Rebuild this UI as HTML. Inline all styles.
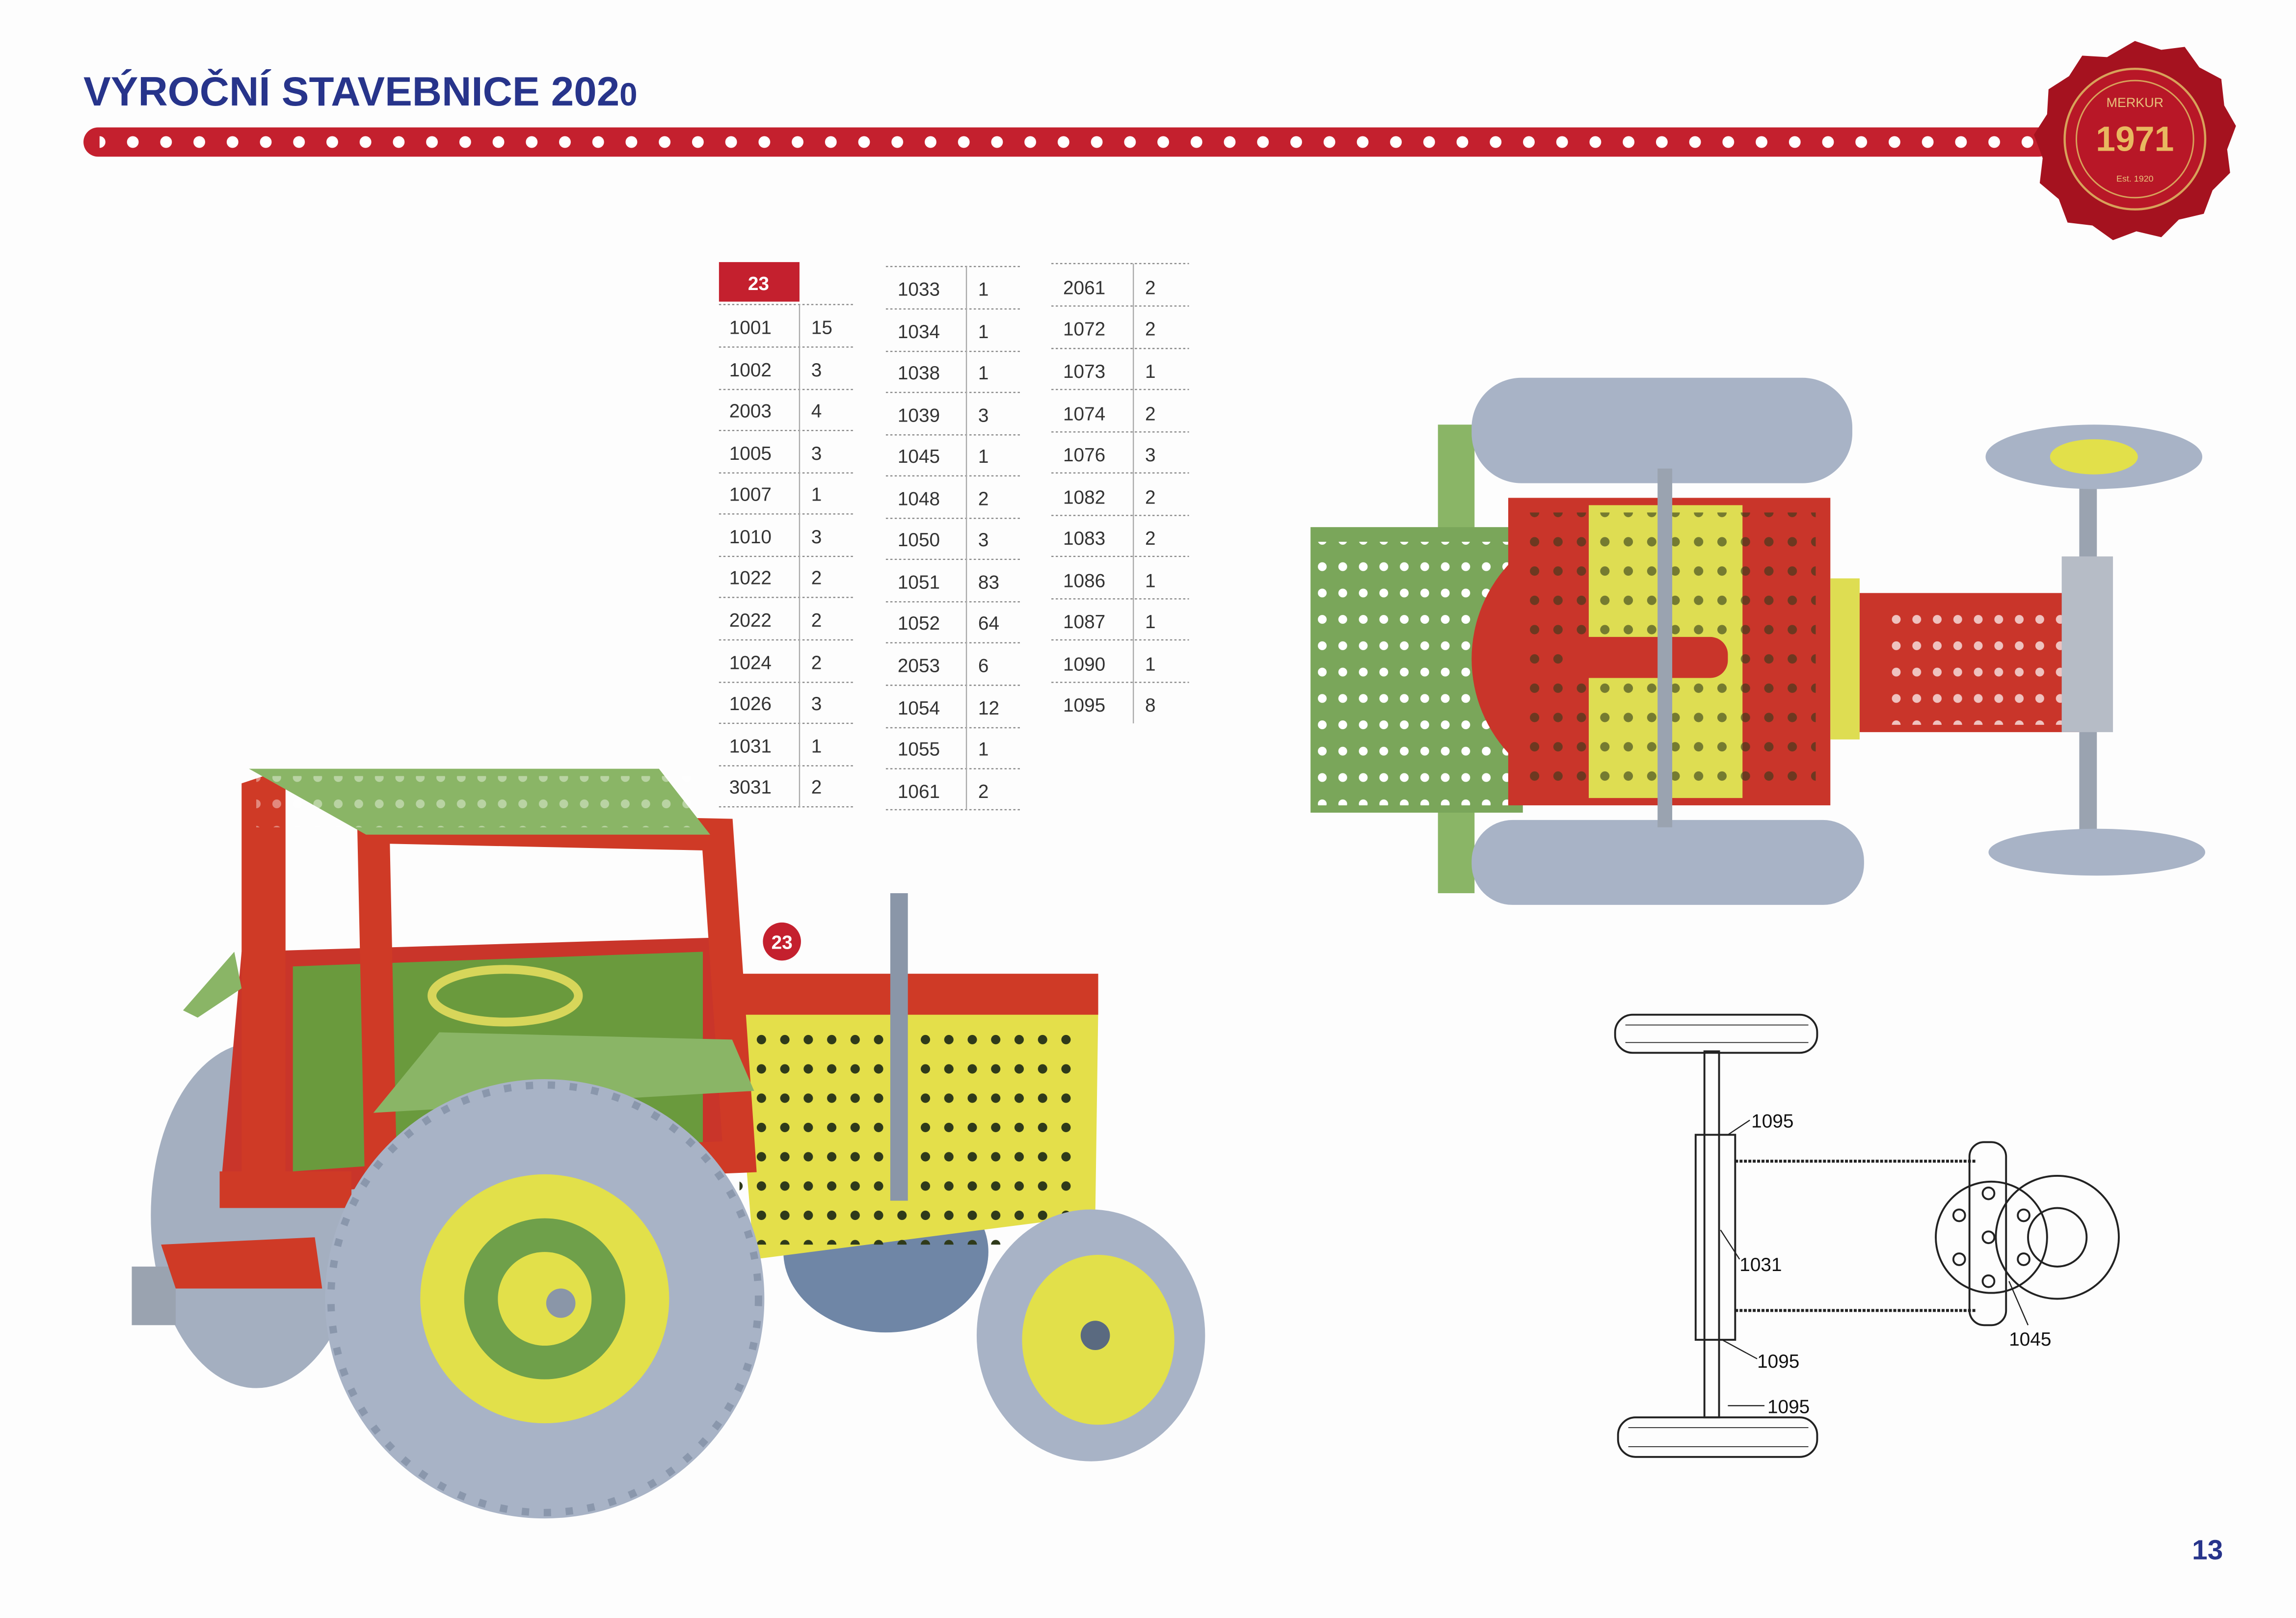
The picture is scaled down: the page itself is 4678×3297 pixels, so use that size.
<!DOCTYPE html>
<html><head><meta charset="utf-8"><style>
html,body{margin:0;padding:0;background:#fff;}
svg{display:block;}
text{font-family:"Liberation Sans",sans-serif;}
</style></head><body>
<svg width="4678" height="3297" viewBox="0 0 1568 1105" preserveAspectRatio="none" xmlns="http://www.w3.org/2000/svg">
<defs>
<pattern id="dots" x="57" y="87" width="22.7" height="20" patternUnits="userSpaceOnUse">
<circle cx="11" cy="10" r="4" fill="#fff"/></pattern>
<pattern id="holesY" width="16" height="20" patternUnits="userSpaceOnUse"><circle cx="8" cy="10" r="3.2" fill="#2f3a1a"/></pattern>
<pattern id="holesW" width="14" height="18" patternUnits="userSpaceOnUse"><circle cx="7" cy="9" r="3" fill="#fff"/></pattern>
</defs>
<rect width="1568" height="1105" fill="#fdfdfd"/>
<!-- header -->
<text x="57" y="72" font-size="28" font-weight="bold" fill="#27348b">VÝROČNÍ STAVEBNICE 202<tspan font-size="22">0</tspan></text>
<rect x="57" y="87" width="1345" height="20" rx="10" fill="#c4202e"/>
<rect x="68" y="87" width="1325" height="20" fill="url(#dots)"/>
<!-- seal -->
<path d="M1458 28 l18 6 l16 -2 l10 14 l15 8 l2 18 l8 14 l-6 16 l2 16 l-12 12 l-6 16 l-17 4 l-12 12 l-17 -4 l-16 6 l-14 -10 l-17 -2 l-6 -16 l-13 -11 l2 -17 l-6 -16 l9 -14 l1 -17 l14 -9 l9 -14 l17 1 z" fill="#a5121f"/>
<circle cx="1458" cy="95" r="48" fill="#b81727" stroke="#d8a25a" stroke-width="1.5"/>
<circle cx="1458" cy="95" r="40" fill="none" stroke="#d8a25a" stroke-width="1"/>
<text x="1458" y="73" font-size="9" fill="#e8c27a" text-anchor="middle">MERKUR</text>
<text x="1458" y="103" font-size="24" font-weight="bold" fill="#e8b860" text-anchor="middle">1971</text>
<text x="1458" y="124" font-size="6" fill="#e8c27a" text-anchor="middle">Est. 1920</text>
<!-- table -->
<g font-size="13" fill="#333">
<rect x="491" y="179" width="55" height="27" fill="#c4202e"/>
<text x="518" y="198" fill="#fff" font-weight="bold" text-anchor="middle">23</text>
<g stroke="#888" stroke-dasharray="1.5,1.5" stroke-width="0.8">
<line x1="491" y1="208" x2="583" y2="208"/><line x1="491" y1="237" x2="583" y2="237"/><line x1="491" y1="266" x2="583" y2="266"/><line x1="491" y1="294" x2="583" y2="294"/><line x1="491" y1="323" x2="583" y2="323"/><line x1="491" y1="351" x2="583" y2="351"/><line x1="491" y1="380" x2="583" y2="380"/><line x1="491" y1="408" x2="583" y2="408"/><line x1="491" y1="437" x2="583" y2="437"/><line x1="491" y1="466" x2="583" y2="466"/><line x1="491" y1="494" x2="583" y2="494"/><line x1="491" y1="523" x2="583" y2="523"/><line x1="491" y1="551" x2="583" y2="551"/>
<line x1="605" y1="182" x2="698" y2="182"/><line x1="605" y1="211" x2="698" y2="211"/><line x1="605" y1="240" x2="698" y2="240"/><line x1="605" y1="268" x2="698" y2="268"/><line x1="605" y1="297" x2="698" y2="297"/><line x1="605" y1="325" x2="698" y2="325"/><line x1="605" y1="354" x2="698" y2="354"/><line x1="605" y1="382" x2="698" y2="382"/><line x1="605" y1="411" x2="698" y2="411"/><line x1="605" y1="439" x2="698" y2="439"/><line x1="605" y1="468" x2="698" y2="468"/><line x1="605" y1="497" x2="698" y2="497"/><line x1="605" y1="525" x2="698" y2="525"/><line x1="605" y1="553" x2="698" y2="553"/>
<line x1="718" y1="180" x2="812" y2="180"/><line x1="718" y1="209" x2="812" y2="209"/><line x1="718" y1="238" x2="812" y2="238"/><line x1="718" y1="266" x2="812" y2="266"/><line x1="718" y1="295" x2="812" y2="295"/><line x1="718" y1="323" x2="812" y2="323"/><line x1="718" y1="352" x2="812" y2="352"/><line x1="718" y1="380" x2="812" y2="380"/><line x1="718" y1="409" x2="812" y2="409"/><line x1="718" y1="437" x2="812" y2="437"/><line x1="718" y1="466" x2="812" y2="466"/>
</g>
<g stroke="#aaa" stroke-width="0.8"><line x1="546" y1="208" x2="546" y2="551"/><line x1="660" y1="182" x2="660" y2="553"/><line x1="774" y1="180" x2="774" y2="494"/></g>
<text x="498" y="228">1001</text><text x="554" y="228">15</text>
<text x="498" y="257">1002</text><text x="554" y="257">3</text>
<text x="498" y="285">2003</text><text x="554" y="285">4</text>
<text x="498" y="314">1005</text><text x="554" y="314">3</text>
<text x="498" y="342">1007</text><text x="554" y="342">1</text>
<text x="498" y="371">1010</text><text x="554" y="371">3</text>
<text x="498" y="399">1022</text><text x="554" y="399">2</text>
<text x="498" y="428">2022</text><text x="554" y="428">2</text>
<text x="498" y="457">1024</text><text x="554" y="457">2</text>
<text x="498" y="485">1026</text><text x="554" y="485">3</text>
<text x="498" y="514">1031</text><text x="554" y="514">1</text>
<text x="498" y="542">3031</text><text x="554" y="542">2</text>
<text x="613" y="202">1033</text><text x="668" y="202">1</text>
<text x="613" y="231">1034</text><text x="668" y="231">1</text>
<text x="613" y="259">1038</text><text x="668" y="259">1</text>
<text x="613" y="288">1039</text><text x="668" y="288">3</text>
<text x="613" y="316">1045</text><text x="668" y="316">1</text>
<text x="613" y="345">1048</text><text x="668" y="345">2</text>
<text x="613" y="373">1050</text><text x="668" y="373">3</text>
<text x="613" y="402">1051</text><text x="668" y="402">83</text>
<text x="613" y="430">1052</text><text x="668" y="430">64</text>
<text x="613" y="459">2053</text><text x="668" y="459">6</text>
<text x="613" y="488">1054</text><text x="668" y="488">12</text>
<text x="613" y="516">1055</text><text x="668" y="516">1</text>
<text x="613" y="545">1061</text><text x="668" y="545">2</text>
<text x="726" y="201">2061</text><text x="782" y="201">2</text>
<text x="726" y="229">1072</text><text x="782" y="229">2</text>
<text x="726" y="258">1073</text><text x="782" y="258">1</text>
<text x="726" y="287">1074</text><text x="782" y="287">2</text>
<text x="726" y="315">1076</text><text x="782" y="315">3</text>
<text x="726" y="344">1082</text><text x="782" y="344">2</text>
<text x="726" y="372">1083</text><text x="782" y="372">2</text>
<text x="726" y="401">1086</text><text x="782" y="401">1</text>
<text x="726" y="429">1087</text><text x="782" y="429">1</text>
<text x="726" y="458">1090</text><text x="782" y="458">1</text>
<text x="726" y="486">1095</text><text x="782" y="486">8</text>
</g>
<!-- badge -->
<circle cx="534" cy="643" r="13" fill="#c4202e"/>
<text x="534" y="648" font-size="13" font-weight="bold" fill="#fff" text-anchor="middle">23</text>
<!-- big tractor -->
<ellipse cx="175" cy="830" rx="72" ry="118" fill="#a4afc0"/>
<ellipse cx="605" cy="855" rx="70" ry="55" fill="#6f86a6"/>
<polygon points="500,680 750,690 748,830 515,860" fill="#e4df4a"/>
<rect x="500" y="665" width="250" height="28" fill="#cf3a26"/>
<rect x="505" y="700" width="235" height="150" fill="url(#holesY)"/>
<polygon points="165,650 500,640 500,790 150,820" fill="#c9352a"/>
<polygon points="200,660 480,650 480,780 200,800" fill="#6a9a3d"/>
<polygon points="165,535 195,525 195,800 165,810" fill="#cf3a26"/>
<polygon points="255,565 490,570 505,790 260,800" fill="none" stroke="#cf3a26" stroke-width="22"/>
<polygon points="170,525 450,525 485,570 250,570" fill="#8ab566"/>
<rect x="175" y="530" width="300" height="35" fill="url(#holesW)" opacity="0.4"/>
<ellipse cx="345" cy="680" rx="50" ry="18" fill="none" stroke="#d7d65a" stroke-width="6"/>
<polygon points="125,690 160,650 165,675 135,695" fill="#8ab566"/>
<polygon points="255,760 300,705 500,710 515,745" fill="#8ab566"/>
<rect x="150" y="800" width="90" height="25" fill="#cf3a26"/>
<rect x="608" y="610" width="12" height="210" fill="#8a96a8"/>
<circle cx="372" cy="887" r="150" fill="#a8b3c6"/>
<circle cx="372" cy="887" r="146" fill="none" stroke="#8a97ac" stroke-width="5" stroke-dasharray="5,10"/>
<circle cx="372" cy="887" r="85" fill="#e2e04a"/>
<circle cx="372" cy="887" r="55" fill="#6fa04a"/>
<circle cx="372" cy="887" r="32" fill="#e2e04a"/>
<circle cx="383" cy="890" r="10" fill="#8a96a8"/>
<ellipse cx="745" cy="912" rx="78" ry="86" fill="#a8b3c6"/>
<ellipse cx="750" cy="915" rx="52" ry="58" fill="#e2e04a"/>
<circle cx="748" cy="912" r="10" fill="#5a6a80"/>
<rect x="90" y="865" width="30" height="40" fill="#9aa3b0"/>
<polygon points="110,850 215,845 220,880 120,880" fill="#cf3a26"/>
<!-- top view tractor -->
<rect x="982" y="290" width="25" height="320" fill="#8ab566"/>
<rect x="1005" y="258" width="260" height="72" rx="34" fill="#a8b3c6"/>
<rect x="1005" y="560" width="268" height="58" rx="28" fill="#a8b3c6"/>
<rect x="895" y="360" width="145" height="195" fill="#7aa65a"/>
<rect x="900" y="370" width="130" height="180" fill="url(#holesW)"/>
<circle cx="1100" cy="450" r="95" fill="#c9352a"/>
<rect x="1030" y="340" width="220" height="210" fill="#c9352a"/>
<rect x="1085" y="345" width="105" height="200" fill="#dedd52"/>
<rect x="1040" y="350" width="200" height="190" fill="url(#holesY)" opacity="0.6"/>
<rect x="1070" y="435" width="110" height="28" rx="12" fill="#c9352a"/>
<rect x="1132" y="320" width="10" height="245" fill="#9aa3b0"/>
<rect x="1250" y="395" width="20" height="110" fill="#dedd52"/>
<rect x="1270" y="405" width="150" height="95" fill="#c9352a"/>
<rect x="1285" y="410" width="130" height="85" fill="url(#holesW)" opacity="0.7"/>
<rect x="1420" y="330" width="12" height="240" fill="#9aa3b0"/>
<rect x="1408" y="380" width="35" height="120" fill="#b6bcc6"/>
<ellipse cx="1430" cy="312" rx="74" ry="22" fill="#a8b3c6"/>
<ellipse cx="1430" cy="312" rx="30" ry="12" fill="#e2e04a"/>
<ellipse cx="1432" cy="582" rx="74" ry="16" fill="#a8b3c6"/>
<!-- line diagram -->
<g fill="none" stroke="#222" stroke-width="1.3">
<rect x="1103" y="693" width="138" height="26" rx="12"/>
<line x1="1110" y1="700" x2="1235" y2="700" stroke-width="0.6"/><line x1="1110" y1="712" x2="1235" y2="712" stroke-width="0.6"/>
<rect x="1105" y="968" width="136" height="27" rx="12"/>
<line x1="1112" y1="975" x2="1235" y2="975" stroke-width="0.6"/><line x1="1112" y1="988" x2="1235" y2="988" stroke-width="0.6"/>
<rect x="1164" y="718" width="10" height="250"/>
<rect x="1158" y="775" width="27" height="140"/>
<line x1="1185" y1="793" x2="1350" y2="793" stroke-width="2" stroke-dasharray="2,1"/>
<line x1="1185" y1="895" x2="1350" y2="895" stroke-width="2" stroke-dasharray="2,1"/>
<rect x="1345" y="780" width="25" height="125" rx="10"/>
<circle cx="1360" cy="845" r="38"/>
<circle cx="1405" cy="845" r="42"/>
<circle cx="1405" cy="845" r="20"/>
<circle cx="1338" cy="830" r="4"/><circle cx="1338" cy="860" r="4"/><circle cx="1382" cy="830" r="4"/><circle cx="1382" cy="860" r="4"/>
<circle cx="1358" cy="815" r="4"/><circle cx="1358" cy="845" r="4"/><circle cx="1358" cy="875" r="4"/>
<line x1="1180" y1="775" x2="1195" y2="765" stroke-width="0.8"/>
<line x1="1175" y1="840" x2="1188" y2="860" stroke-width="0.8"/>
<line x1="1176" y1="915" x2="1200" y2="928" stroke-width="0.8"/>
<line x1="1180" y1="960" x2="1205" y2="960" stroke-width="0.8"/>
<line x1="1372" y1="875" x2="1385" y2="905" stroke-width="0.8"/>
</g>
<g font-size="13" fill="#111">
<text x="1196" y="770">1095</text>
<text x="1188" y="868">1031</text>
<text x="1200" y="934">1095</text>
<text x="1207" y="965">1095</text>
<text x="1372" y="919">1045</text>
</g>
<text x="1497" y="1065" font-size="19" font-weight="bold" fill="#27348b">13</text>
</svg>
</body></html>
